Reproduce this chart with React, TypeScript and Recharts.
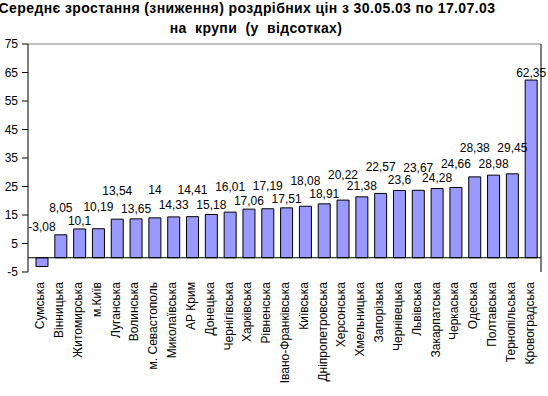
import { Bar, BarChart, LabelList, ReferenceLine, XAxis, YAxis } from "recharts";

const regions = [
  "Сумська", "Вінницька", "Житомирська", "м.Київ", "Луганська", "Волинська",
  "м. Севастополь", "Миколаївська", "АР Крим", "Донецька", "Чернігівська",
  "Харківська", "Рівненська", "Івано-Франківська", "Київська",
  "Дніпропетровська", "Херсонська", "Хмельницька", "Запорізька", "Чернівецька",
  "Львівська", "Закарпатська", "Черкаська", "Одеська", "Полтавська",
  "Тернопільська", "Кровоградська",
];

const growth = [
  -3.08, 8.05, 10.1, 10.19, 13.54, 13.65, 14, 14.33, 14.41, 15.18, 16.01, 17.06,
  17.19, 17.51, 18.08, 18.91, 20.22, 21.38, 22.57, 23.6, 23.67, 24.28, 24.66,
  28.38, 28.98, 29.45, 62.35,
];

const yTicks = [-5, 5, 15, 25, 35, 45, 55, 65, 75];

// how far each value label sits above its bar (Excel had them hand-staggered)
const labelLift = [
  31, 27, 8, 22, 29, 10, 28, 12, 27, 10, 26, 9, 23, 9, 26, 10, 26, 11, 27, 11,
  23, 11, 24, 29, 12, 26, 8,
];

const FONT = "'Liberation Sans', Arial, sans-serif";

const chartData = regions.map((name, i) => ({ name, value: growth[i] }));

const fmt = (v: number) => String(v).replace(".", ",");

function ValueLabel(props: any) {
  const { x, y, width, height, value, index } = props;
  const top = Math.min(y, y + height);
  return (
    <text
      x={x + width / 2}
      y={top - labelLift[index] + 4.5}
      textAnchor="middle"
      fontSize={12}
      fontFamily={FONT}
      fill="#000"
    >
      {fmt(value)}
    </text>
  );
}

function RegionTick(props: any) {
  const { x, y, payload } = props;
  return (
    <text
      x={x - 2}
      y={y}
      transform={`rotate(-90, ${x - 2}, ${y})`}
      textAnchor="end"
      dominantBaseline="central"
      fontSize={12}
      fontFamily={FONT}
      fill="#000"
    >
      {payload.value}
    </text>
  );
}

const titleStyle = {
  position: "absolute" as const,
  width: 548,
  textAlign: "center" as const,
  whiteSpace: "nowrap" as const,
  fontWeight: "bold",
  fontSize: 14,
  lineHeight: "20px",
  letterSpacing: "0.4px",
};

export default function App() {
  return (
    <div
      style={{
        position: "absolute",
        left: 0,
        top: 0,
        width: 548,
        height: 396,
        background: "#fff",
        fontFamily: FONT,
        overflow: "hidden",
      }}
    >
      <div style={{ ...titleStyle, top: -2, left: -27 }}>
        Середнє зростання (зниження) роздрібних цін з 30.05.03 по 17.07.03
      </div>
      <div style={{ ...titleStyle, top: 18, left: -18, wordSpacing: "4px" }}>
        на крупи (у відсотках)
      </div>
      <BarChart
        width={548}
        height={396}
        data={chartData}
        margin={{ top: 44, right: 7, left: 0, bottom: 4 }}
        barSize={12}
      >
        <XAxis
          dataKey="name"
          interval={0}
          padding={{ left: 5, right: 0 }}
          axisLine={false}
          tickLine={false}
          tickSize={0}
          tickMargin={10}
          height={120}
          tick={<RegionTick />}
        />
        <YAxis
          yAxisId="left"
          domain={[-5, 75]}
          ticks={yTicks}
          interval={0}
          width={28}
          tickSize={6}
          tickMargin={4}
          axisLine={{ stroke: "#000" }}
          tickLine={{ stroke: "#000" }}
          tick={{ fill: "#000", fontSize: 12, fontFamily: FONT }}
        />
        <YAxis
          yAxisId="right"
          orientation="right"
          domain={[-5, 75]}
          ticks={yTicks}
          interval={0}
          width={1}
          mirror
          tick={false}
          tickSize={3}
          axisLine={{ stroke: "#000" }}
          tickLine={{ stroke: "#000" }}
        />
        <ReferenceLine yAxisId="left" y={75} stroke="#808080" />
        <ReferenceLine yAxisId="left" y={0} stroke="#000" />
        <Bar
          yAxisId="left"
          dataKey="value"
          fill="#9999FF"
          stroke="#000"
          strokeWidth={1}
          isAnimationActive={false}
        >
          <LabelList dataKey="value" content={<ValueLabel />} />
        </Bar>
      </BarChart>
    </div>
  );
}
